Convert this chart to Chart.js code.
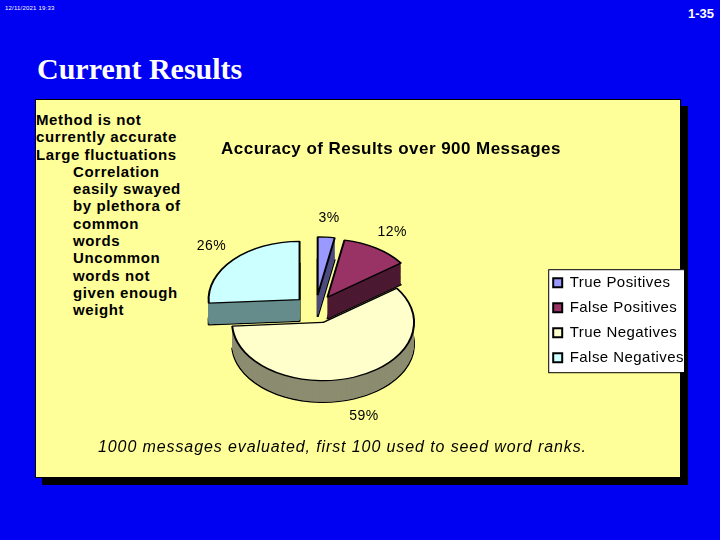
<!DOCTYPE html>
<html>
<head>
<meta charset="utf-8">
<script src="https://cdn.jsdelivr.net/npm/chart.js@4.4.1/dist/chart.umd.min.js"></script>
<style>
  html, body { margin: 0; padding: 0; }
  body { width: 720px; height: 540px; background: #0000f2; position: relative; overflow: hidden; font-family: 'Liberation Sans', Arial, sans-serif; }
  #stamp { position: absolute; left: 5px; top: 5px; color: #fff; font-size: 6px; letter-spacing: 0.2px; }
  #page { position: absolute; left: 688px; top: 6px; color: #fff; font-size: 13px; font-weight: bold; }
  #heading { position: absolute; left: 37px; top: 52px; color: #fff; font-family: 'Liberation Serif', 'Times New Roman', serif; font-weight: bold; font-size: 30px; }
  #panel { position: absolute; left: 35px; top: 99px; width: 644px; height: 377px; background: #ffff99; border: 1px solid #000; box-shadow: 7px 7px 0 #000; }
  #notes { position: absolute; left: 36px; top: 111px; font-size: 15px; font-weight: bold; line-height: 17.3px; letter-spacing: 0.6px; color: #000; }
  #notes .sub { padding-left: 37px; }
  #foot { position: absolute; left: 98px; top: 438px; font-size: 16px; font-style: italic; letter-spacing: 0.9px; color: #000; white-space: nowrap; }
  #chart { position: absolute; left: 36px; top: 100px; }
</style>
</head>
<body>
<div id="stamp">12/11/2021 19:33</div>
<div id="page">1-35</div>
<div id="heading">Current Results</div>
<div id="panel"></div>
<div id="notes">
  <div>Method is not<br>currently accurate<br>Large fluctuations</div>
  <div class="sub">Correlation<br>easily swayed<br>by plethora of<br>common<br>words<br>Uncommon<br>words not<br>given enough<br>weight</div>
</div>
<canvas id="chart" width="684" height="378"></canvas>
<div id="foot">1000 messages evaluated, first 100 used to seed word ranks.</div>

<script>
const categories = ['True Positives', 'False Positives', 'True Negatives', 'False Negatives'];
const percents = [3, 12, 59, 26];

const topColors = ['#9999ff', '#993366', '#ffffcc', '#ccffff'];
const sideColors = ['#4d4d80', '#4d1a33', '#8c8c70', '#668c8c'];

// fake 3D look: squash, push slices out, stack darker copies underneath
const TILT = 0.64;
const DEPTH = 22;
const EXPLODE = 22;
const LABEL_R = 143;

function drawSlice(ctx, arc, dy, overrides) {
  const mid = (arc.startAngle + arc.endAngle) / 2;
  ctx.save();
  ctx.translate(Math.cos(mid) * EXPLODE, Math.sin(mid) * EXPLODE + dy);
  const el = Object.create(arc);
  el.options = Object.assign({}, arc.options, overrides);
  arc.draw.call(el, ctx);
  ctx.restore();
}

const pie3d = {
  id: 'pie3d',
  beforeUpdate(chart) {
    chart.ctx.letterSpacing = '0.45px';
  },
  beforeDraw(chart) {
    // white legend box
    const boxes = chart.legend.legendHitBoxes;
    if (!boxes || !boxes.length) return;
    const ctx = chart.ctx;
    const left = Math.min(...boxes.map(b => b.left)) - 5;
    const right = Math.max(...boxes.map(b => b.left + b.width));
    const top = boxes[0].top - 6;
    const last = boxes[boxes.length - 1];
    const bottom = last.top + last.height + 7;
    ctx.save();
    ctx.fillStyle = '#fff';
    ctx.strokeStyle = '#000';
    ctx.lineWidth = 1;
    ctx.fillRect(left, top, right - left, bottom - top);
    ctx.strokeRect(left + 0.5, top + 0.5, right - left, bottom - top);
    ctx.restore();
  },
  beforeDatasetsDraw(chart) {
    const ctx = chart.ctx;
    const arcs = chart.getDatasetMeta(0).data;
    const cx = arcs[0].x, cy = arcs[0].y;
    ctx.save();
    ctx.translate(cx, cy);
    ctx.scale(1, TILT);
    ctx.translate(-cx, -cy);
    const depth = Math.round(DEPTH / TILT);
    for (let k = depth; k >= 1; k--) {
      arcs.forEach((arc, i) => {
        drawSlice(ctx, arc, k, {
          backgroundColor: sideColors[i],
          borderColor: '#000',
          borderWidth: k === depth ? 2 : 0
        });
      });
    }
    arcs.forEach(arc => drawSlice(ctx, arc, 0, {}));
    ctx.restore();
    return false;
  },
  afterDraw(chart) {
    const ctx = chart.ctx;
    const arcs = chart.getDatasetMeta(0).data;
    const values = chart.data.datasets[0].data;
    ctx.save();
    ctx.font = '14px "Liberation Sans", Arial, sans-serif';
    ctx.fillStyle = '#000';
    ctx.textAlign = 'center';
    ctx.textBaseline = 'middle';
    arcs.forEach((arc, i) => {
      const mid = (arc.startAngle + arc.endAngle) / 2;
      const dx = Math.cos(mid), dy = Math.sin(mid);
      const x = arc.x + LABEL_R * dx;
      const y = arc.y + LABEL_R * dy * TILT + (dy > 0 ? DEPTH * dy : 0);
      ctx.fillText(values[i] + '%', x, y);
    });
    ctx.restore();
  }
};

new Chart(document.getElementById('chart'), {
  type: 'pie',
  data: {
    labels: categories,
    datasets: [{
      data: percents,
      backgroundColor: topColors,
      borderColor: '#000',
      borderWidth: 2,
      radius: 91,
      clip: false
    }]
  },
  options: {
    responsive: false,
    animation: false,
    events: [],
    layout: { padding: { left: 52, right: 26, top: 0, bottom: 29 } },
    plugins: {
      title: {
        display: true,
        text: 'Accuracy of Results over 900 Messages',
        color: '#000',
        font: { family: '"Liberation Sans", Arial, sans-serif', size: 17, weight: 'bold' },
        padding: { top: 39, bottom: 10 }
      },
      legend: {
        position: 'right',
        fullSize: false,
        title: { display: true, text: '', font: { size: 10 }, padding: { top: 0, bottom: 10 } },
        labels: {
          color: '#000',
          font: { family: '"Liberation Sans", Arial, sans-serif', size: 15 },
          boxWidth: 9,
          boxHeight: 9,
          padding: 10
        }
      },
      tooltip: { enabled: false }
    }
  },
  plugins: [pie3d]
});
</script>
</body>
</html>
